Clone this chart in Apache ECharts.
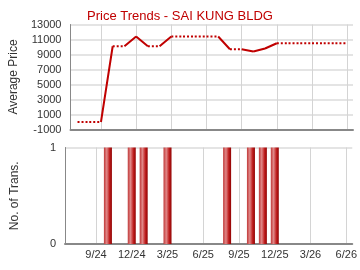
<!DOCTYPE html>
<html>
<head>
<meta charset="utf-8">
<script src="https://cdn.jsdelivr.net/npm/echarts@6/dist/echarts.min.js"></script>
<style>
html, body { margin: 0; padding: 0; background: #fff; }
#main { width: 360px; height: 270px; }
</style>
</head>
<body>
<div id="main"></div>
<script>
// months counted from Jan 2024 = 0
var months = [6, 7, 8, 9, 10, 11, 12, 13, 14, 15, 16, 17, 18, 19, 20, 21, 22, 23, 24, 25, 26, 27, 28, 29]
var prices = [0, 0, 0, 10100, 10100, 11400, 10100, 10100, 11400, 11400, 11400, 11400, 11400, 9700, 9700, 9400, 9800, 10500, 10500, 10500, 10500, 10500, 10500, 10500]
var trans = [0, 0, 0, 1, 0, 1, 1, 0, 1, 0, 0, 0, 0, 1, 0, 1, 1, 1, 0, 0, 0, 0, 0, 0]
var tickMonths = [8, 11, 14, 17, 20, 23, 26, 29]
var title = 'Price Trends - SAI KUNG BLDG'

function monthLabel(v) {
    var y = 24 + Math.floor(v / 12)
    var m = (v % 12) + 1
    return m + '/' + y
}

// split line into solid (ends on a month with trans) and dotted pieces
var solid = []
var dotted = []
for (let i = 0; i < months.length - 1; i++) {
    let target = trans[i + 1] > 0 ? solid : dotted
    target.push([months[i], prices[i]])
    target.push([months[i + 1], prices[i + 1]])
    target.push([months[i + 1], null])
}
var bars = []
for (let i = 0; i < months.length; i++) {
    if (trans[i] > 0) bars.push([months[i], trans[i]])
}

var red = '#c00000'
var font = 'Liberation Sans, Arial, sans-serif'

var xBase = {
    type: 'value',
    min: 5.4,
    max: 29.5,
    axisLine: { show: true, onZero: false, lineStyle: { color: '#888', width: 2 } },
    axisTick: { show: false, customValues: tickMonths },
    splitLine: { show: true, lineStyle: { color: '#d4d4d4', width: 1 } }
}

var mCharts = echarts.init(document.getElementById('main'), null, { renderer: 'canvas' })
var option = {
    animation: false,
    backgroundColor: '#fff',
    title: {
        text: title,
        left: 'center',
        top: 5,
        textStyle: { color: red, fontSize: 13, fontWeight: 'normal', fontFamily: font }
    },
    grid: [
        { left: 65, right: 7, top: 24.5, height: 105 },
        { left: 65, right: 7, top: 147.5, height: 96.5 }
    ],
    xAxis: [
        Object.assign({}, xBase, {
            gridIndex: 0,
            axisLabel: { show: false, customValues: tickMonths }
        }),
        Object.assign({}, xBase, {
            gridIndex: 1,
            axisLabel: {
                customValues: tickMonths,
                formatter: monthLabel,
                color: '#333', fontSize: 11, fontFamily: font, margin: 5
            }
        })
    ],
    yAxis: [
        {
            gridIndex: 0,
            type: 'value',
            min: -1000,
            max: 13000,
            interval: 2000,
            name: 'Average Price',
            nameLocation: 'middle',
            nameGap: 44,
            nameTextStyle: { color: '#333', fontSize: 12, fontFamily: font },
            axisLine: { show: true, lineStyle: { color: '#888', width: 1 } },
            axisTick: { show: false },
            axisLabel: { color: '#333', fontSize: 11, fontFamily: font, margin: 9, formatter: function (v) { return String(v) } },
            splitLine: { lineStyle: { color: '#e4e4e4', width: 2 } }
        },
        {
            gridIndex: 1,
            type: 'value',
            min: 0,
            max: 1,
            interval: 1,
            name: 'No. of Trans.',
            nameLocation: 'middle',
            nameGap: 44,
            nameTextStyle: { color: '#333', fontSize: 12, fontFamily: font },
            axisLine: { show: true, lineStyle: { color: '#888', width: 1 } },
            axisTick: { show: false },
            axisLabel: { color: '#333', fontSize: 11, fontFamily: font, margin: 9 },
            splitLine: { lineStyle: { color: '#e4e4e4', width: 2 } }
        }
    ],
    series: [
        {
            type: 'line',
            xAxisIndex: 0,
            yAxisIndex: 0,
            data: solid,
            showSymbol: false,
            connectNulls: false,
            lineStyle: { color: red, width: 2 }
        },
        {
            type: 'line',
            xAxisIndex: 0,
            yAxisIndex: 0,
            data: dotted,
            showSymbol: false,
            connectNulls: false,
            lineStyle: { color: red, width: 2, type: [2, 2] }
        },
        {
            type: 'bar',
            xAxisIndex: 1,
            yAxisIndex: 1,
            data: bars,
            barWidth: 8,
            itemStyle: {
                color: new echarts.graphic.LinearGradient(0, 0, 1, 0, [
                    { offset: 0, color: '#c03838' },
                    { offset: 0.35, color: '#e08888' },
                    { offset: 0.7, color: '#c02020' },
                    { offset: 1, color: '#900000' }
                ])
            }
        }
    ]
}
mCharts.setOption(option)
</script>
</body>
</html>
